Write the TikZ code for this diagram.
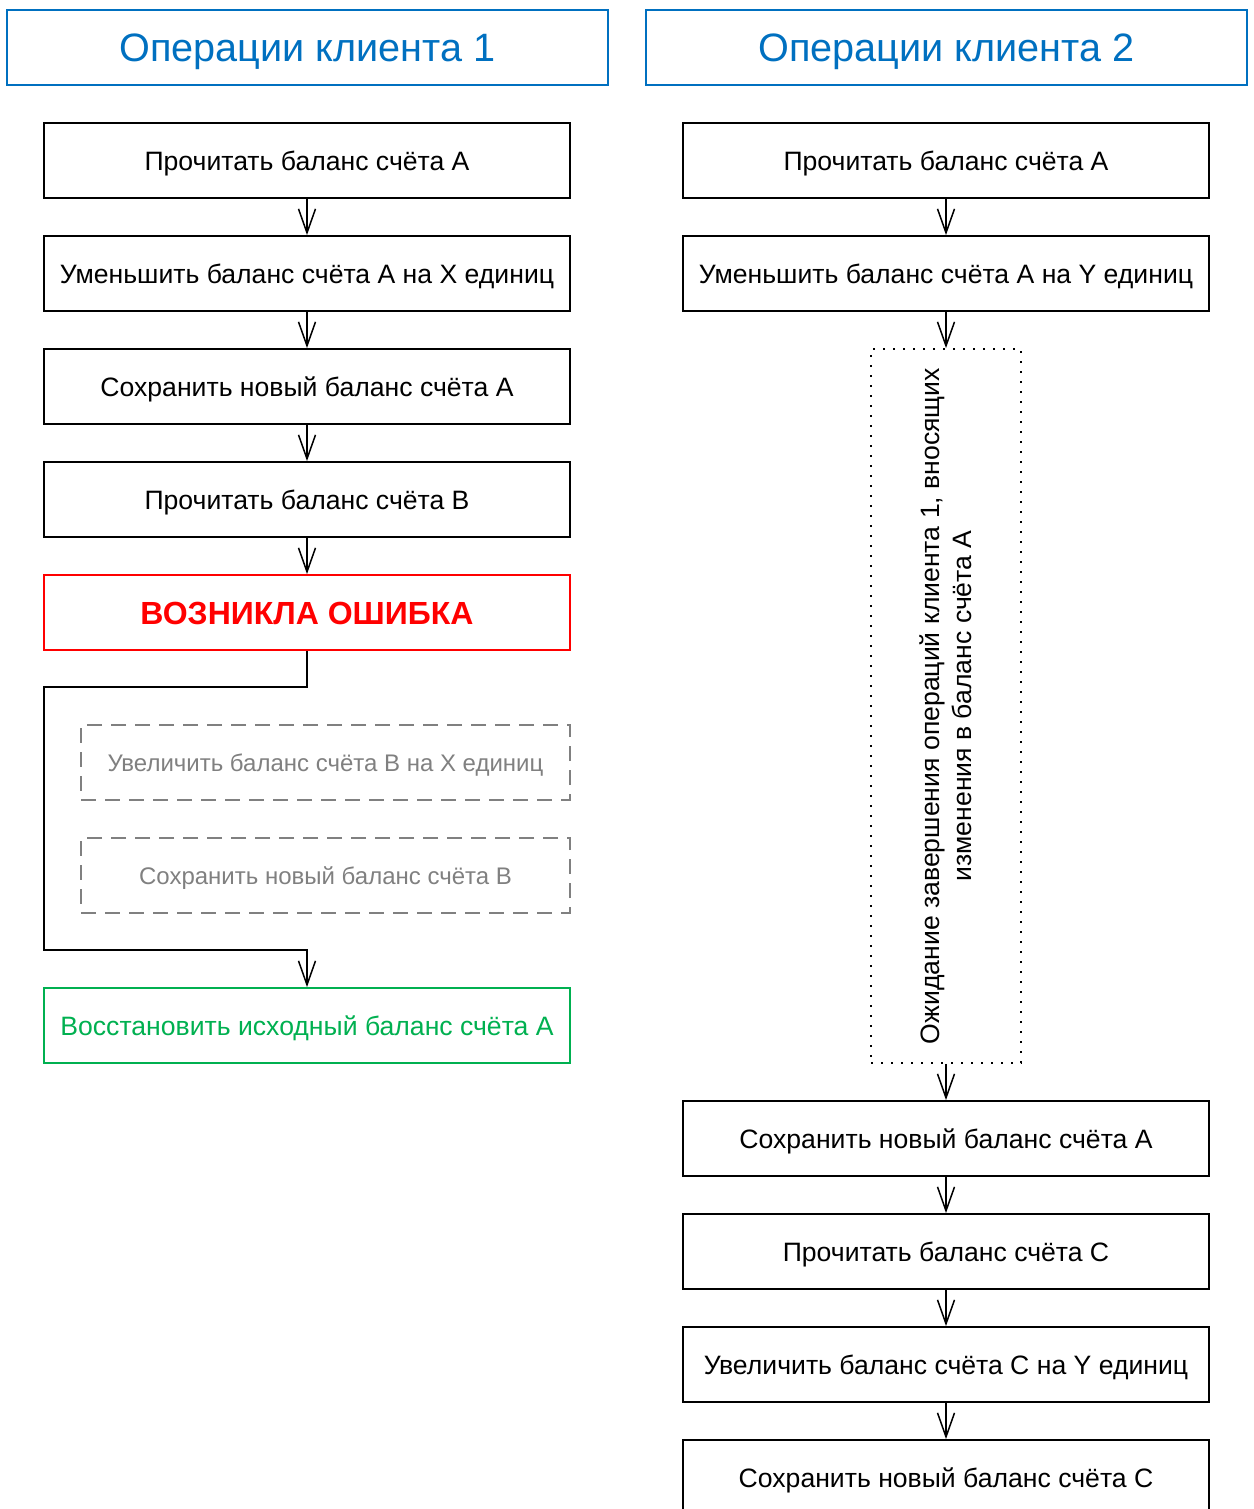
\documentclass[tikz,border=0pt]{standalone}
\usepackage{fontspec}
\setmainfont{Liberation Sans}
\usetikzlibrary{arrows.meta}
\definecolor{hdrblue}{HTML}{0070C0}
\definecolor{errred}{HTML}{FF0000}
\definecolor{okgreen}{HTML}{00B050}
\definecolor{skipgray}{HTML}{808080}
\begin{document}
\begin{tikzpicture}[x=0.5pt,y=-0.5pt,
  hdr/.style={draw=hdrblue, line width=1pt, minimum width=300.5pt, minimum height=37.5pt, inner sep=0pt, text=hdrblue, font=\fontsize{19.8}{23}\selectfont, text height=14.2pt, text depth=0pt},
  box/.style={draw, line width=0.9pt, minimum width=263pt, minimum height=37.5pt, inner sep=0pt, font=\fontsize{13.3}{16}\selectfont, text height=9.5pt, text depth=0pt},
  errbox/.style={box, draw=errred, text=errred, font=\fontsize{16}{19}\selectfont\bfseries, text height=11.5pt},
  okbox/.style={box, draw=okgreen, text=okgreen},
  skipbox/.style={box, draw=skipgray, text=skipgray, minimum width=244.5pt, dash pattern=on 7.5pt off 4.5pt, font=\fontsize{12}{15}\selectfont, text height=8.6pt},
  waitbox/.style={draw, line width=0.9pt, minimum width=75pt, minimum height=357pt, inner sep=0pt, dash pattern=on 0.9pt off 4.1pt},
  arr/.style={line width=0.75pt, -{Straight Barb[length=12pt,width=8.5pt,line width=0.75pt]}}
]
\useasboundingbox (0,0) rectangle (1253,1509);
% headers
\node[hdr] (h1) at (307.5,47.5) {Операции клиента 1};
\node[hdr] (h2) at (946.5,47.5) {Операции клиента 2};
% left column
\node[box] (l1) at (307,160.5) {Прочитать баланс счёта А};
\node[box] (l2) at (307,273.5) {Уменьшить баланс счёта А на X единиц};
\node[box] (l3) at (307,386.5) {Сохранить новый баланс счёта А};
\node[box] (l4) at (307,499.5) {Прочитать баланс счёта B};
\node[errbox] (l5) at (307,612.5) {ВОЗНИКЛА ОШИБКА};
\node[skipbox] (s1) at (325.5,762.5) {Увеличить баланс счёта B на X единиц};
\node[skipbox] (s2) at (325.5,875.5) {Сохранить новый баланс счёта B};
\node[okbox] (l6) at (307,1025.5) {Восстановить исходный баланс счёта А};
\coordinate (e1) at (44,687);
\coordinate (e2) at (44,950);
\draw[arr] (l1) -- (l2);
\draw[arr] (l2) -- (l3);
\draw[arr] (l3) -- (l4);
\draw[arr] (l4) -- (l5);
\draw[arr] (l5.south) |- (e1) -- (e2) -| (l6.north);
% right column
\node[box] (r1) at (946,160.5) {Прочитать баланс счёта А};
\node[box] (r2) at (946,273.5) {Уменьшить баланс счёта А на Y единиц};
\node[waitbox] (w) at (946,706) {};
\node[rotate=90, align=center, inner sep=0pt, font=\fontsize{13.3}{16}\selectfont] (wt) at (946,706) {Ожидание завершения операций клиента 1, вносящих\\изменения в баланс счёта А};
\node[box] (r3) at (946,1138.5) {Сохранить новый баланс счёта А};
\node[box] (r4) at (946,1251.5) {Прочитать баланс счёта C};
\node[box] (r5) at (946,1364.5) {Увеличить баланс счёта C на Y единиц};
\node[box] (r6) at (946,1477.5) {Сохранить новый баланс счёта C};
\draw[arr] (r1) -- (r2);
\draw[arr] (r2) -- (w);
\draw[arr] (w) -- (r3);
\draw[arr] (r3) -- (r4);
\draw[arr] (r4) -- (r5);
\draw[arr] (r5) -- (r6);
\end{tikzpicture}
\end{document}
